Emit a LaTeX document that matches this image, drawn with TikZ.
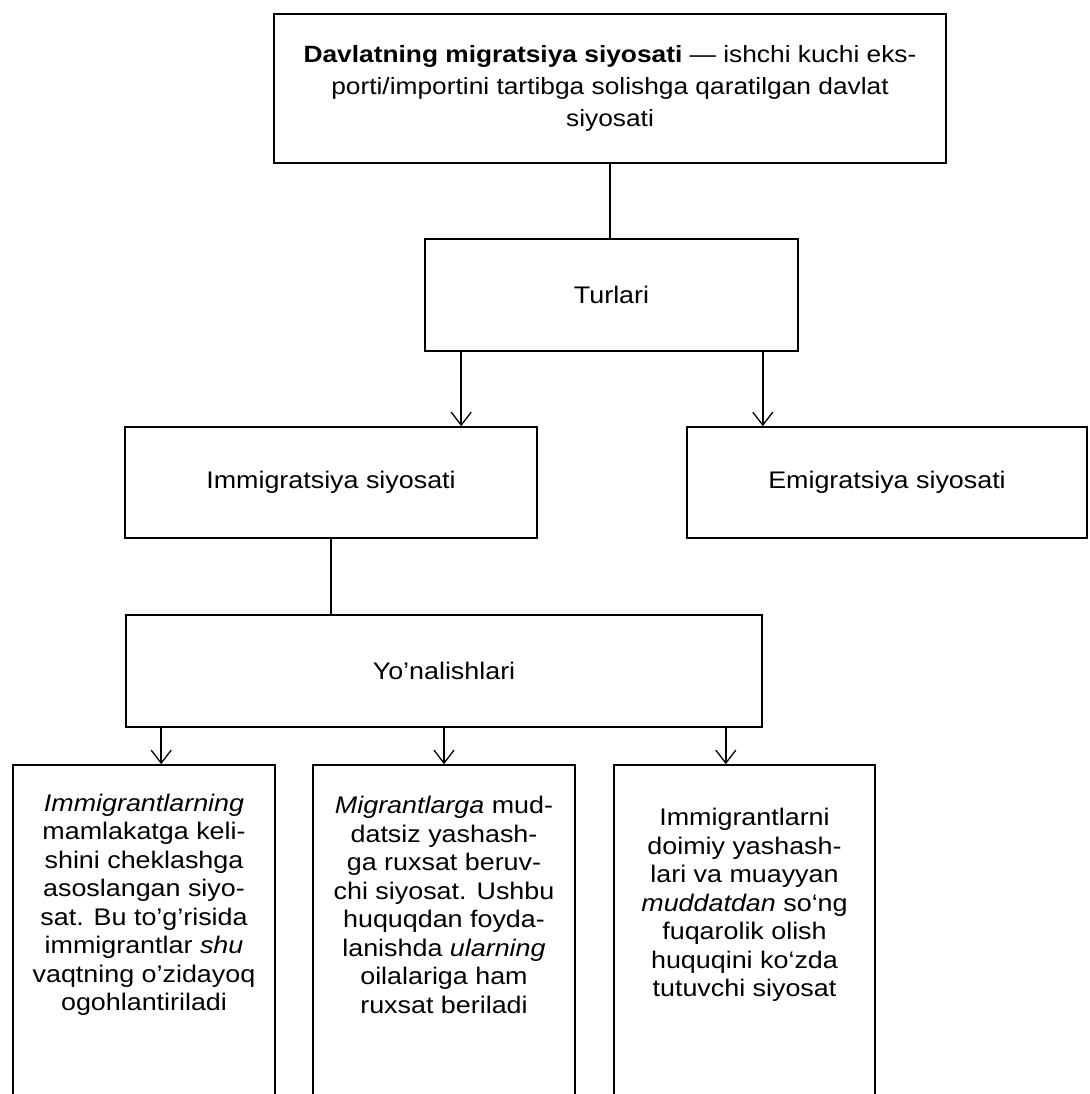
\documentclass[tikz,border=0pt]{standalone}
\usepackage{fontspec}
\setmainfont[FakeStretch=1.12]{Liberation Sans}
\usetikzlibrary{arrows.meta,calc}
\tikzset{
  boxnode/.style={draw=black, line width=1.6pt, rectangle, inner sep=0pt, align=center},
  toptext/.style={font=\fontsize{23.5pt}{32pt}\selectfont},
  midtext/.style={font=\fontsize{24pt}{29pt}\selectfont},
  lowtext/.style={font=\fontsize{24pt}{28.5pt}\selectfont, align=center, inner sep=0pt},
  link/.style={draw=black, line width=1.6pt},
  arr/.style={link, -{Straight Barb[length=13pt,width=20pt,line width=1.3pt]}}
}
\begin{document}
\begin{tikzpicture}[x=1pt,y=-1pt]
\useasboundingbox (0,0) rectangle (1089,1094);
\fill[white] (0,0) rectangle (1089,1094);
\clip (0,0) rectangle (1089,1094);

\node[boxnode, toptext, minimum width=672, minimum height=149] (top) at (610,88.5)
  {\textbf{Davlatning migratsiya siyosati} — ishchi kuchi eks-\\
   porti/importini tartibga solishga qaratilgan davlat\\
   siyosati};
\node[boxnode, midtext, minimum width=373, minimum height=112] (tur) at (611.5,295) {Turlari};
\node[boxnode, midtext, minimum width=412, minimum height=111] (imm) at (331,482.5) {Immigratsiya siyosati};
\node[boxnode, midtext, minimum width=400, minimum height=111] (emi) at (887,482.5) {Emigratsiya siyosati};
\node[boxnode, midtext, minimum width=636, minimum height=112] (yon) at (444,671) {Yo’nalishlari};

\node[boxnode, minimum width=262, minimum height=370] (b1) at (144,950) {};
\node[boxnode, minimum width=262, minimum height=370] (b2) at (444,950) {};
\node[boxnode, minimum width=261, minimum height=370] (b3) at (744.5,950) {};

\node[lowtext] (t1) at (144,905)
  {\textit{Immigrantlarning}\\ mamlakatga keli-\\ shini cheklashga\\ asoslangan siyo-\\
   sat. Bu to’g’risida\\ immigrantlar \textit{shu}\\ vaqtning o’zidayoq\\ ogohlantiriladi};
\node[lowtext] (t2) at (444,905)
  {\textit{Migrantlarga} mud-\\ datsiz yashash-\\ ga ruxsat beruv-\\ chi siyosat. Ushbu\\
   huquqdan foyda-\\ lanishda \textit{ularning}\\ oilalariga ham\\ ruxsat beriladi};
\node[lowtext] (t3) at (744.5,905)
  {Immigrantlarni\\ doimiy yashash-\\ lari va muayyan\\ \textit{muddatdan} so‘ng\\
   fuqarolik olish\\ huquqini ko‘zda\\ tutuvchi siyosat};

\draw[link] (top.south) -- (top.south |- tur.north);
\draw[arr] ([xshift=37pt]tur.south west) -- ([xshift=37pt]tur.south west |- imm.north);
\draw[arr] ([xshift=-36pt]tur.south east) -- ([xshift=-36pt]tur.south east |- emi.north);
\draw[link] (imm.south) -- (imm.south |- yon.north);
\draw[arr] ([xshift=36pt]yon.south west) -- ([xshift=36pt]yon.south west |- b1.north);
\draw[arr] (yon.south) -- (yon.south |- b2.north);
\draw[arr] ([xshift=-37pt]yon.south east) -- ([xshift=-37pt]yon.south east |- b3.north);
\end{tikzpicture}
\end{document}
